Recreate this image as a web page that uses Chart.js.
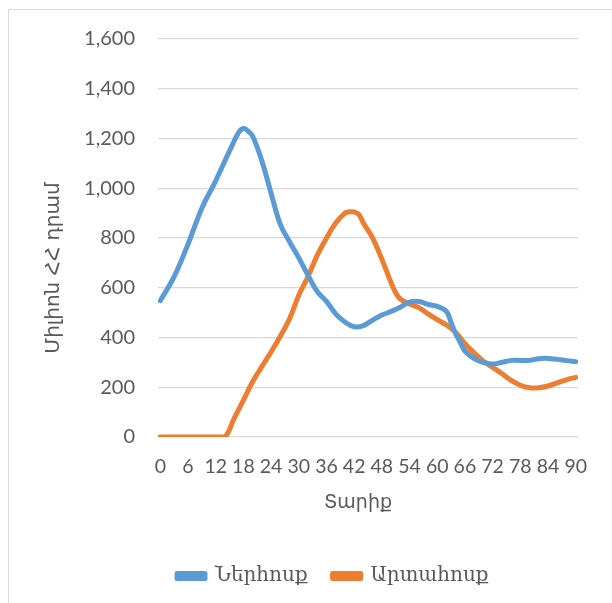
<!DOCTYPE html>
<html>
<head>
<meta charset="utf-8">
<script src="https://cdn.jsdelivr.net/npm/chart.js@4.4.1/dist/chart.umd.min.js"></script>
<style>
  html, body { margin: 0; padding: 0; background: #ffffff; }
  #wrap { position: relative; width: 612px; height: 603px; overflow: hidden; }
  #frame { position: absolute; left: 8px; top: 9px; width: 700px; height: 700px; border: 1px solid #d9d9d9; box-sizing: border-box; }
  canvas { position: absolute; left: 0; top: 0; }
</style>
</head>
<body>
<div id="wrap">
  <div id="frame"></div>
  <canvas id="c" width="612" height="603"></canvas>
</div>
<script>
// ---- data ----
const seriesNames = ["Ներհոսք", "Արտահոսք"];
const inflowAges = [0, 3, 6, 9, 12, 15, 17, 18, 19, 20, 22, 24, 26, 28, 30, 32, 34, 36, 38, 40, 42, 44, 46, 48, 50, 52, 54, 56, 58, 60, 62, 63, 64, 65, 66, 68, 70, 72, 74, 76, 78, 80, 82, 84, 86, 88, 90];
const inflowValues = [548, 645, 775, 920, 1030, 1150, 1225, 1240, 1230, 1210, 1110, 980, 855, 785, 720, 650, 585, 545, 495, 462, 443, 448, 470, 490, 505, 522, 542, 545, 533, 525, 505, 460, 415, 380, 345, 315, 300, 293, 300, 308, 308, 308, 315, 316, 312, 307, 303];
const outflowAges = [0, 3, 6, 9, 12, 14, 16, 18, 20, 22, 24, 26, 28, 30, 32, 34, 36, 38, 40, 41, 42, 43, 44, 46, 48, 50, 51, 52, 54, 56, 58, 60, 62, 64, 66, 68, 70, 72, 74, 76, 78, 80, 82, 84, 86, 88, 90];
const outflowValues = [0, 0, 0, 0, 0, 0, 75, 148, 222, 283, 342, 405, 475, 570, 645, 730, 800, 860, 900, 905, 905, 895, 860, 800, 715, 620, 580, 555, 535, 520, 495, 472, 450, 420, 375, 338, 305, 280, 255, 228, 208, 198, 198, 205, 218, 230, 240];
const xTicks = [0, 6, 12, 18, 24, 30, 36, 42, 48, 54, 60, 66, 72, 78, 84, 90];
const yTicks = [0, 200, 400, 600, 800, 1000, 1200, 1400, 1600];
const xTitle = "Տարիք";
const yTitle = "Միլիոն ՀՀ դրամ";

const toPts = (xs, ys) => xs.map((x, i) => ({ x: x, y: ys[i] }));
const FONT = "Lato, 'Open Sans', 'DejaVu Sans', sans-serif";
const ARM = "'DejaVu Sans', 'Noto Sans', sans-serif";
const GREY = "#595959";

const titlesPlugin = {
  id: "axisTitles",
  afterLayout(chart) {
    const lg = chart.legend;
    if (lg) {
      const w = lg.right - lg.left;
      lg.left = 177 - lg.options.labels.padding;
      lg.right = lg.left + w;
    }
  },
  afterDraw(chart) {
    const ctx = chart.ctx;
    ctx.save();
    ctx.fillStyle = GREY;
    ctx.textAlign = "center";
    ctx.textBaseline = "middle";
    ctx.font = "20px " + ARM;
    ctx.translate(54, 268);
    ctx.rotate(-Math.PI / 2);
    ctx.fillText(yTitle, 0, 0);
    ctx.restore();
    ctx.save();
    ctx.fillStyle = GREY;
    ctx.textAlign = "center";
    ctx.textBaseline = "middle";
    ctx.font = "19px " + ARM;
    ctx.fillText(xTitle, 358, 503);
    ctx.restore();
  }
};

new Chart(document.getElementById("c"), {
  type: "line",
  data: {
    datasets: [
      { label: seriesNames[0], data: toPts(inflowAges, inflowValues), borderColor: "#5B9BD5", backgroundColor: "#5B9BD5", borderWidth: 5, pointRadius: 0, tension: 0.4, borderCapStyle: "round", borderJoinStyle: "round" },
      { label: seriesNames[1], data: toPts(outflowAges, outflowValues), borderColor: "#ED7D31", backgroundColor: "#ED7D31", borderWidth: 5, pointRadius: 0, tension: 0.4, borderCapStyle: "round", borderJoinStyle: "round" }
    ]
  },
  plugins: [titlesPlugin],
  options: {
    responsive: false,
    animation: false,
    devicePixelRatio: 1,
    layout: { padding: { top: 39, left: 0, right: 34, bottom: 7 } },
    plugins: {
      legend: {
        position: "bottom",
        align: "start",
        labels: { boxWidth: 28, boxHeight: 5, padding: 25, color: GREY, font: { family: "'DejaVu Serif', 'DejaVu Sans', serif", size: 20 } }
      },
      tooltip: { enabled: false }
    },
    scales: {
      x: {
        type: "linear",
        min: -0.5,
        max: 90.5,
        afterBuildTicks: (axis) => { axis.ticks = xTicks.map(v => ({ value: v })); },
        afterFit: (axis) => { axis.height = 104; },
        grid: { display: false, drawTicks: false },
        border: { display: false },
        ticks: { color: GREY, font: { family: FONT, size: 19.5 }, padding: 18, autoSkip: false, maxRotation: 0 },
        title: { display: false }
      },
      y: {
        min: 0,
        max: 1600,
        afterBuildTicks: (axis) => { axis.ticks = yTicks.map(v => ({ value: v })); },
        afterFit: (axis) => { axis.width = 158; },
        grid: { color: "#d9d9d9", lineWidth: 1.3, drawTicks: false },
        border: { display: false },
        ticks: { color: GREY, font: { family: FONT, size: 20 }, padding: 23, callback: (v) => v.toLocaleString("en-US") },
        title: { display: false }
      }
    }
  }
});
</script>
</body>
</html>
